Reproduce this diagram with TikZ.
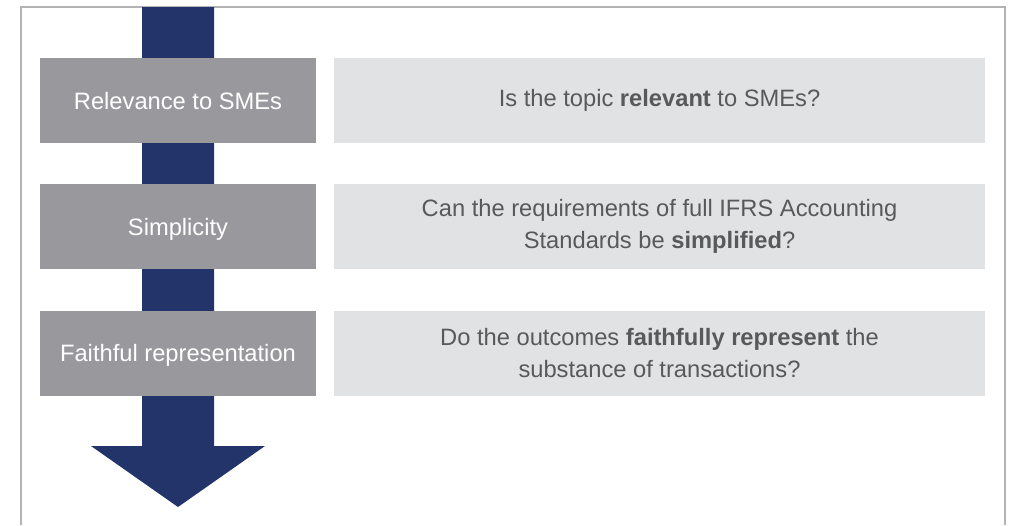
\documentclass[tikz,border=0pt]{standalone}
\usepackage{fontspec}
\setmainfont{Liberation Sans}
\definecolor{navy}{HTML}{22346A}
\definecolor{stagegray}{HTML}{99999D}
\definecolor{askgray}{HTML}{E1E2E4}
\definecolor{framegray}{HTML}{B3B3B6}
\definecolor{asktext}{HTML}{58595B}
\begin{document}
\begin{tikzpicture}[x=0.5pt,y=-0.5pt,
  every node/.style={font=\fontsize{11.85}{16}\selectfont,inner sep=0pt},
  stagebox/.style={fill=stagegray,text=white,minimum width=138pt,minimum height=42.5pt,text height=8.5pt,text depth=0pt},
  askbox/.style={fill=askgray,text=asktext,minimum width=325.5pt,minimum height=42.5pt,align=center}]
\useasboundingbox (0,0) rectangle (1011,525);
\draw[framegray,line width=1pt] (21,525) -- (21,7) -- (1005,7) -- (1005,525);
\fill[navy] (142,7) -- (214,7) -- (214,446) -- (265,446) -- (178,507) -- (91,446) -- (142,446) -- cycle;
\node[stagebox] (relevance) at (178,100.5) {Relevance to SMEs};
\node[stagebox] (simplicity) at (178,226.5) {Simplicity};
\node[stagebox] (faithful) at (178,353) {Faithful representation};
\node[askbox] (relevanceq) at (659.5,100.5) {Is the topic \textbf{relevant} to SMEs?};
\node[askbox] (simplicityq) at (659.5,226.5) {Can the requirements of full IFRS Accounting\\Standards be \textbf{simplified}?};
\node[askbox] (faithfulq) at (659.5,353) {Do the outcomes \textbf{faithfully represent} the\\substance of transactions?};
\end{tikzpicture}
\end{document}
